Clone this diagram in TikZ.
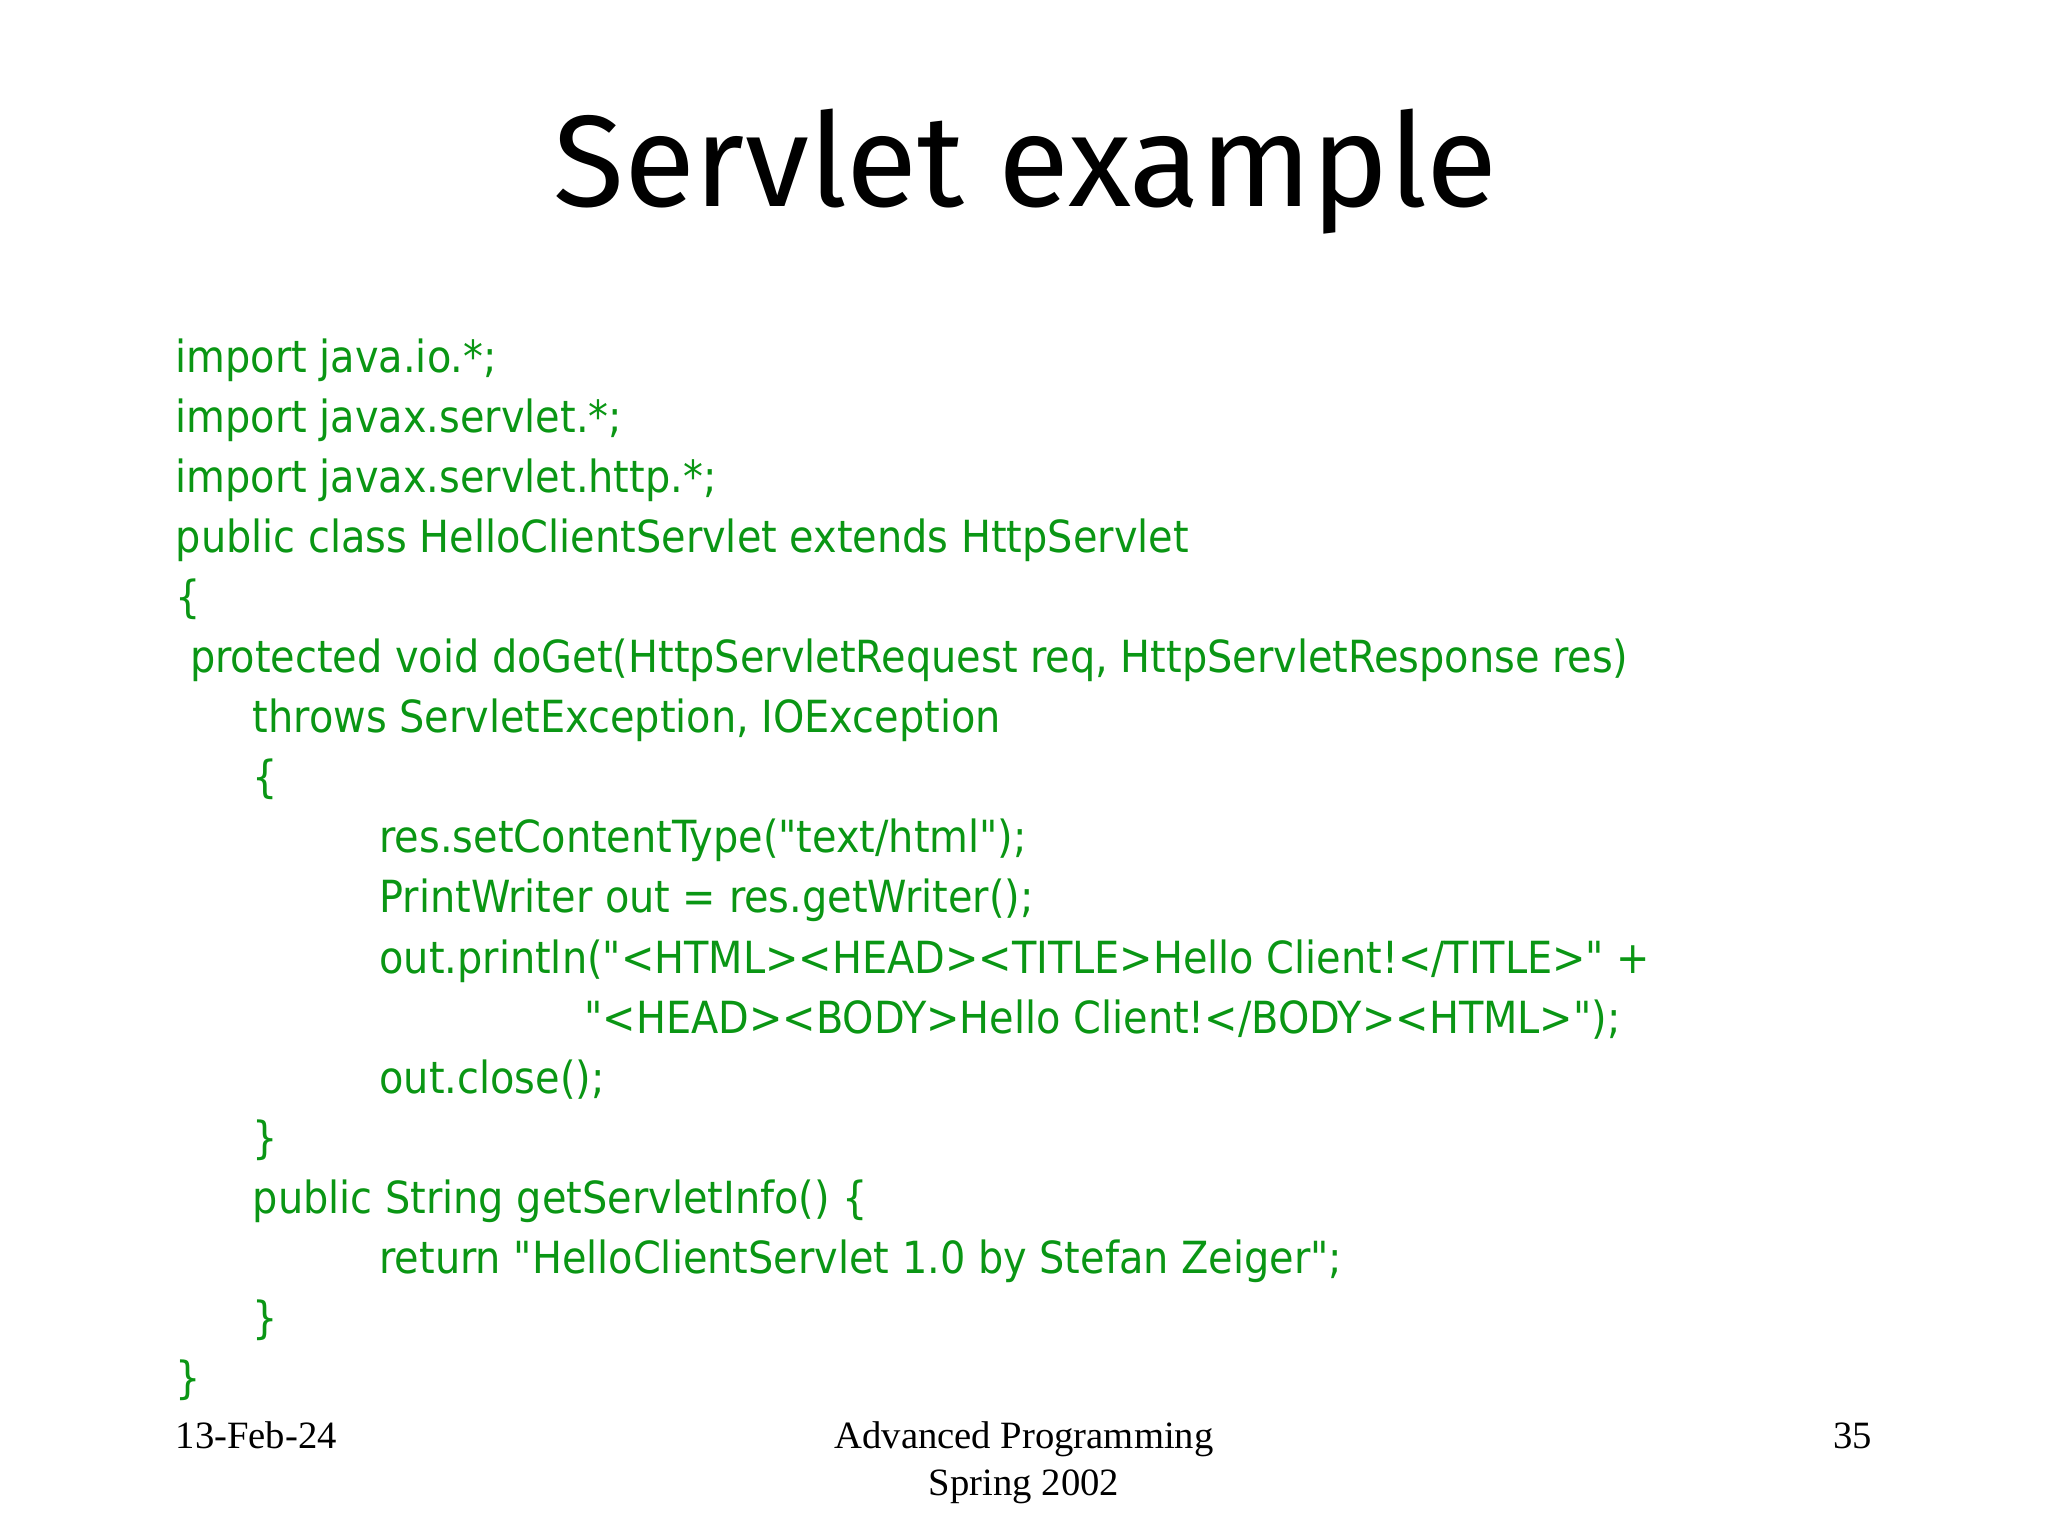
\documentclass[tikz,border=0pt]{standalone}
\usepackage{fontspec}
\setmainfont{Liberation Serif}
\newfontfamily\codefont{DejaVu Sans Condensed}
\newfontfamily\titlefont{Fira Sans}
\definecolor{codegreen}{RGB}{10,150,20}
\begin{document}
\begin{tikzpicture}[x=0.01306cm,y=-0.01306cm,
  code/.style={anchor=base west,inner sep=0pt,text=codegreen,font=\codefont\fontsize{12.6pt}{14pt}\selectfont},
  foot/.style={anchor=base,inner sep=0pt,font=\fontsize{11pt}{13pt}\selectfont}]
\useasboundingbox (0,0) rectangle (1568,1176);
\node[anchor=base,inner sep=0pt,font=\titlefont\fontsize{37pt}{44pt}\selectfont] (title) at (785,158) {Servlet example};
\node[code] (l1) at (134,285) {import java.io.*;};
\node[code] (l2) at (134,331) {import javax.servlet.*;};
\node[code] (l3) at (134,377) {import javax.servlet.http.*;};
\node[code] (l4) at (134,423) {public class HelloClientServlet extends HttpServlet};
\node[code] (l5) at (134,469) {\{};
\node[code] (l6) at (145,515) {protected void doGet(HttpServletRequest req, HttpServletResponse res)};
\node[code] (l7) at (193,561) {throws ServletException, IOException};
\node[code] (l8) at (193,607) {\{};
\node[code] (l9) at (290,653) {res.setContentType("text/html");};
\node[code] (l10) at (290,699) {PrintWriter out = res.getWriter();};
\node[code] (l11) at (290,745) {out.println("<HTML><HEAD><TITLE>Hello Client!</TITLE>" +};
\node[code] (l12) at (447,791) {"<HEAD><BODY>Hello Client!</BODY><HTML>");};
\node[code] (l13) at (290,837) {out.close();};
\node[code] (l14) at (193,883) {\}};
\node[code] (l15) at (193,929) {public String getServletInfo() \{};
\node[code] (l16) at (290,975) {return "HelloClientServlet 1.0 by Stefan Zeiger";};
\node[code] (l17) at (193,1021) {\}};
\node[code] (l18) at (134,1067) {\}};
\node[foot,anchor=base west] (date) at (134,1109) {13-Feb-24};
\node[foot] (course) at (784,1109) {Advanced Programming};
\node[foot] (term) at (784,1145) {Spring 2002};
\node[foot,anchor=base east] (page) at (1434,1109) {35};
\end{tikzpicture}
\end{document}
